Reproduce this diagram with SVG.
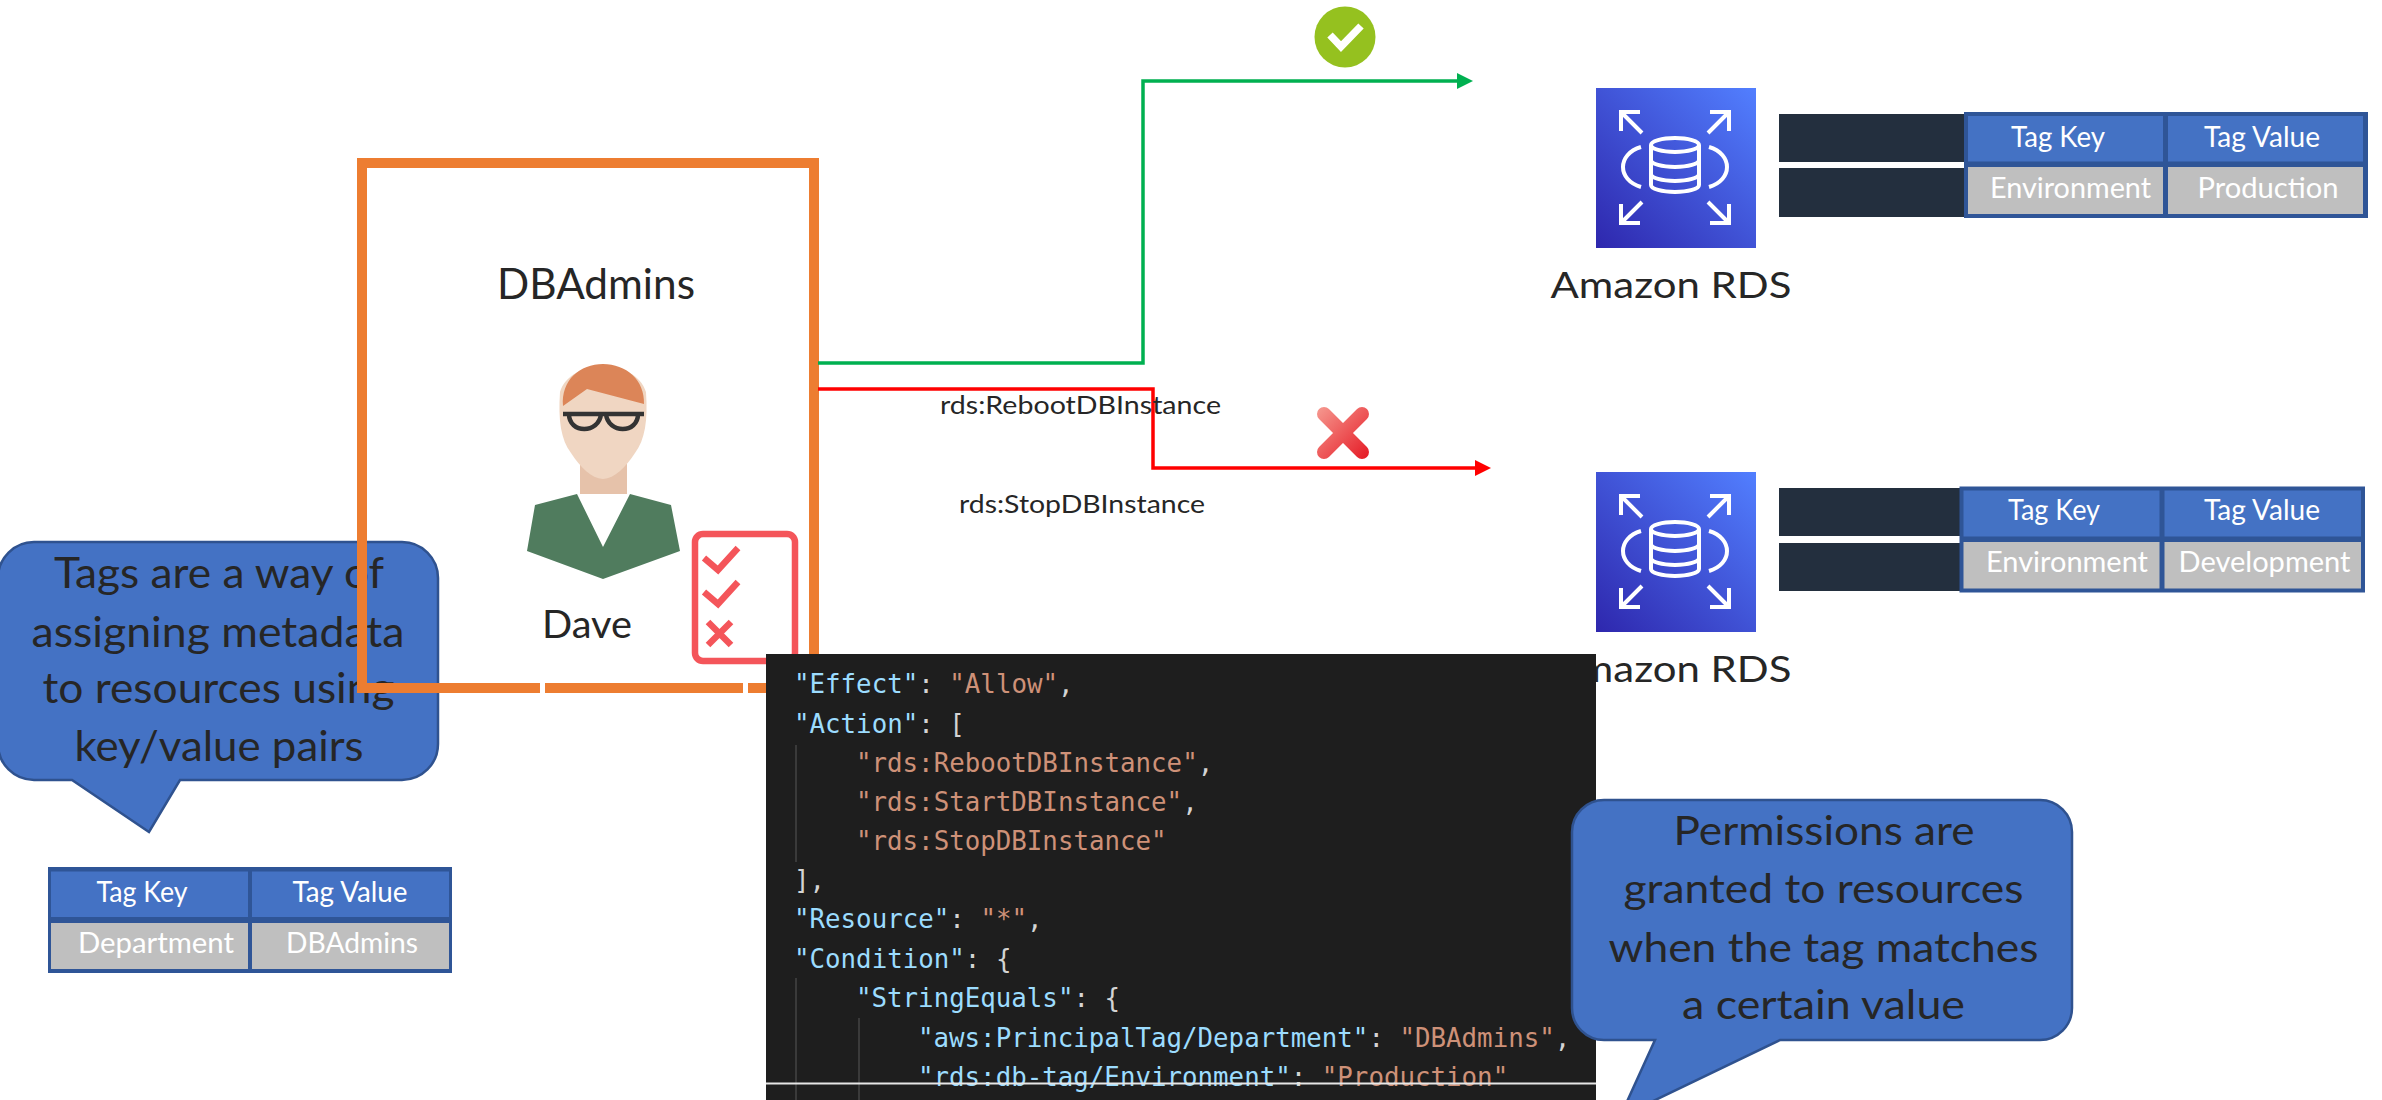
<svg xmlns="http://www.w3.org/2000/svg" width="2382" height="1100" viewBox="0 0 2382 1100">
  <defs>
    <style>
      .label { font-family: Lato, "Open Sans", "Liberation Sans", sans-serif; fill: #262626; }
      .cell { font-family: Lato, "Open Sans", "Liberation Sans", sans-serif; fill: #FFFFFF; }
      .code { font-family: "DejaVu Sans Mono", "Liberation Mono", monospace; font-size: 25.8px; fill: #D4D4D4; }
      .key { fill: #9CDCFE; }
      .str { fill: #CE9178; }
      .orange { stroke: #ED7D31; stroke-width: 10; fill: none; }
      .bubble { fill: #4472C4; stroke: #2F528F; stroke-width: 2.5; }
      .tbl-border { fill: #2F5597; }
      .tbl-head { fill: #4472C4; }
      .tbl-data { fill: #BFBFBF; }
      .bar { fill: #232F3E; }
      .guide { stroke: #444444; stroke-width: 1.5; }
      .icon-line { fill: none; stroke: #FFFFFF; stroke-width: 4; stroke-linecap: butt; stroke-linejoin: miter; }
    </style>
    <linearGradient id="rdsGradient" x1="0" y1="1" x2="1" y2="0">
      <stop offset="0" stop-color="#2E27AD"/>
      <stop offset="1" stop-color="#527FFF"/>
    </linearGradient>
    <linearGradient id="denyGradient" gradientUnits="userSpaceOnUse" x1="1320" y1="410" x2="1366" y2="456">
      <stop offset="0" stop-color="#F5928A"/>
      <stop offset="1" stop-color="#E6202A"/>
    </linearGradient>
    <marker id="arrowGreen" markerUnits="userSpaceOnUse" markerWidth="16" markerHeight="16" refX="8" refY="8" orient="auto">
      <path d="M0,0 L16,8 L0,16 z" fill="#00B050"/>
    </marker>
    <marker id="arrowRed" markerUnits="userSpaceOnUse" markerWidth="16" markerHeight="16" refX="8" refY="8" orient="auto">
      <path d="M0,0 L16,8 L0,16 z" fill="#FF0000"/>
    </marker>
    <!-- Amazon RDS service icon, 160 x 160 -->
    <g id="rdsIcon">
      <rect x="0" y="0" width="160" height="160" fill="url(#rdsGradient)"/>
      <path class="icon-line" d="M44,24 H25 V43 M25,24 L46,45"/>
      <path class="icon-line" d="M114,24 H133 V43 M133,24 L112,45"/>
      <path class="icon-line" d="M25,116 V135 H44 M25,135 L46,114"/>
      <path class="icon-line" d="M133,116 V135 H114 M133,135 L112,114"/>
      <ellipse class="icon-line" cx="79" cy="57" rx="24" ry="7"/>
      <path class="icon-line" d="M55,57 V97 A24,7 0 0 0 103,97 V57"/>
      <path class="icon-line" d="M55,72 A24,7 0 0 0 103,72"/>
      <path class="icon-line" d="M55,86 A24,7 0 0 0 103,86"/>
      <path class="icon-line" d="M45,59 C21,66 21,92 45,99"/>
      <path class="icon-line" d="M113,59 C137,66 137,92 113,99"/>
    </g>
  </defs>

  <rect x="0" y="0" width="2382" height="1100" fill="#FFFFFF"/>

  <!-- Callout: what tags are -->
  <g id="tags-callout">
    <path class="bubble" d="M34,542 H402 A36,36 0 0 1 438,578 V744 A36,36 0 0 1 402,780 H180 L149,832 L72,780 H34 A36,36 0 0 1 -2,744 V578 A36,36 0 0 1 34,542 Z"/>
    <text class="label" font-size="42" text-anchor="middle" x="219" y="588" textLength="330" lengthAdjust="spacingAndGlyphs">Tags are a way of</text>
    <text class="label" font-size="42" text-anchor="middle" x="218" y="647" textLength="373" lengthAdjust="spacingAndGlyphs">assigning metadata</text>
    <text class="label" font-size="42" text-anchor="middle" x="218.5" y="703" textLength="352" lengthAdjust="spacingAndGlyphs">to resources using</text>
    <text class="label" font-size="42" text-anchor="middle" x="219" y="761" textLength="289" lengthAdjust="spacingAndGlyphs">key/value pairs</text>
  </g>

  <!-- Principal tag on the DBAdmins group -->
  <g id="principal-tag-table">
    <rect class="tbl-border" x="48" y="867" width="404" height="106"/>
    <rect class="tbl-head" x="51" y="871.5" width="197" height="45.5"/>
    <rect class="tbl-head" x="252" y="871.5" width="197" height="45.5"/>
    <rect class="tbl-data" x="51" y="923" width="197" height="46"/>
    <rect class="tbl-data" x="252" y="923" width="197" height="46"/>
    <text class="cell" font-size="28" text-anchor="middle" x="142" y="902" textLength="91" lengthAdjust="spacingAndGlyphs">Tag Key</text>
    <text class="cell" font-size="28" text-anchor="middle" x="350" y="902" textLength="115" lengthAdjust="spacingAndGlyphs">Tag Value</text>
    <text class="cell" font-size="28" text-anchor="middle" x="156" y="953" textLength="156" lengthAdjust="spacingAndGlyphs">Department</text>
    <text class="cell" font-size="28" text-anchor="middle" x="352" y="953" textLength="132" lengthAdjust="spacingAndGlyphs">DBAdmins</text>
  </g>

  <!-- DBAdmins IAM group -->
  <g id="dbadmins-group">
    <line class="orange" x1="357" y1="163" x2="819" y2="163"/>
    <line class="orange" x1="362" y1="158" x2="362" y2="693"/>
    <line class="orange" x1="814" y1="158" x2="814" y2="660"/>
    <line class="orange" x1="357" y1="688" x2="540" y2="688"/>
    <line class="orange" x1="545" y1="688" x2="743" y2="688"/>
    <line class="orange" x1="748" y1="688" x2="819" y2="688"/>
    <text class="label" font-size="42" text-anchor="middle" x="596" y="299" textLength="198" lengthAdjust="spacingAndGlyphs">DBAdmins</text>
  </g>

  <!-- Dave, member of the group -->
  <g id="dave">
    <path d="M580,455 H627 V494 H580 Z" fill="#E6C2AA"/>
    <path d="M560,392 C558,420 561,440 571,453 C581,468 591,478 603,479 C615,478 625,468 635,453 C645,440 648,420 646,392 C641,375 621,366 603,366 C585,366 565,375 560,392 Z" fill="#F0D6C2"/>
    <path d="M563,406 C561,380 580,364 603,364 C626,364 645,380 644,404 L587,389 Z" fill="#DC8558"/>
    <path d="M563,414 H644 M569,414 C569,434 599,434 601,414 M606,414 C608,434 638,434 638,414" fill="none" stroke="#333333" stroke-width="4.5"/>
    <path d="M577,494 L603,547 L630,494 L671,505 L680,551 L603,579 L527,551 L535,505 Z" fill="#507C5E"/>
    <text class="label" font-size="38" text-anchor="middle" x="587" y="638" textLength="90" lengthAdjust="spacingAndGlyphs">Dave</text>
  </g>

  <!-- Policy checklist -->
  <g id="policy-checklist" fill="none" stroke="#F4555A" stroke-width="6.5">
    <rect x="695" y="534" width="100" height="127" rx="8"/>
    <path d="M704,558 L718,570 L738,548"/>
    <path d="M704,592 L718,604 L738,582"/>
    <path d="M708,622 L731,645 M731,622 L708,645"/>
  </g>

  <!-- Production database -->
  <g id="rds-production">
    <use href="#rdsIcon" x="1596" y="88"/>
    <text class="label" font-size="37" text-anchor="middle" x="1671" y="298" textLength="241" lengthAdjust="spacingAndGlyphs">Amazon RDS</text>
    <rect class="bar" x="1779" y="114" width="186" height="48"/>
    <rect class="bar" x="1779" y="168" width="186" height="49"/>
    <rect class="tbl-border" x="1964" y="112" width="404" height="106"/>
    <rect class="tbl-head" x="1968" y="116" width="195" height="45.5"/>
    <rect class="tbl-head" x="2168" y="116" width="195" height="45.5"/>
    <rect class="tbl-data" x="1968" y="167" width="195" height="47"/>
    <rect class="tbl-data" x="2168" y="167" width="195" height="47"/>
    <text class="cell" font-size="29" text-anchor="middle" x="2058" y="147" textLength="94" lengthAdjust="spacingAndGlyphs">Tag Key</text>
    <text class="cell" font-size="29" text-anchor="middle" x="2262" y="147" textLength="116" lengthAdjust="spacingAndGlyphs">Tag Value</text>
    <text class="cell" font-size="29" text-anchor="middle" x="2070.5" y="198" textLength="161" lengthAdjust="spacingAndGlyphs">Environment</text>
    <text class="cell" font-size="29" text-anchor="middle" x="2268" y="198" textLength="141" lengthAdjust="spacingAndGlyphs">Production</text>
  </g>

  <!-- Development database -->
  <g id="rds-development">
    <use href="#rdsIcon" x="1596" y="472"/>
    <text class="label" font-size="37" text-anchor="middle" x="1671" y="682" textLength="241" lengthAdjust="spacingAndGlyphs">Amazon RDS</text>
    <rect class="bar" x="1779" y="488" width="182" height="48"/>
    <rect class="bar" x="1779" y="543" width="182" height="48"/>
    <rect class="tbl-border" x="1959.5" y="486.5" width="405.5" height="106"/>
    <rect class="tbl-head" x="1963.5" y="490.5" width="196" height="46"/>
    <rect class="tbl-head" x="2164.5" y="490.5" width="196.5" height="46"/>
    <rect class="tbl-data" x="1963.5" y="542" width="196" height="46.5"/>
    <rect class="tbl-data" x="2164.5" y="542" width="196.5" height="46.5"/>
    <text class="cell" font-size="29" text-anchor="middle" x="2054" y="520" textLength="92" lengthAdjust="spacingAndGlyphs">Tag Key</text>
    <text class="cell" font-size="29" text-anchor="middle" x="2262" y="520" textLength="116" lengthAdjust="spacingAndGlyphs">Tag Value</text>
    <text class="cell" font-size="29" text-anchor="middle" x="2067" y="572" textLength="162" lengthAdjust="spacingAndGlyphs">Environment</text>
    <text class="cell" font-size="29" text-anchor="middle" x="2264.5" y="572" textLength="172" lengthAdjust="spacingAndGlyphs">Development</text>
  </g>

  <!-- Request paths from the group to the databases -->
  <g id="connectors" fill="none" stroke-width="3.5">
    <path d="M818,363 H1143 V81 H1465" stroke="#00B050" marker-end="url(#arrowGreen)"/>
    <path d="M818,389 H1153 V468 H1483" stroke="#FF0000" marker-end="url(#arrowRed)"/>
    <text class="label" stroke="none" font-size="25" x="940" y="414" textLength="281" lengthAdjust="spacingAndGlyphs">rds:RebootDBInstance</text>
    <text class="label" stroke="none" font-size="25" x="959" y="513" textLength="246" lengthAdjust="spacingAndGlyphs">rds:StopDBInstance</text>
  </g>

  <!-- Allowed badge -->
  <g id="allow-badge">
    <circle cx="1345" cy="37" r="30.5" fill="#95C11F"/>
    <path d="M1330,35 L1341,46.5 L1361,26" fill="none" stroke="#FFFFFF" stroke-width="7.5"/>
  </g>

  <!-- Denied badge -->
  <g id="deny-badge" stroke="url(#denyGradient)" stroke-width="14" stroke-linecap="round">
    <line x1="1324" y1="414" x2="1362" y2="452"/>
    <line x1="1362" y1="414" x2="1324" y2="452"/>
  </g>

  <!-- IAM policy statement -->
  <g id="policy-code">
    <rect x="766" y="654" width="830" height="446" fill="#1E1E1E"/>
    <line class="guide" x1="796" y1="745" x2="796" y2="862"/>
    <line class="guide" x1="796" y1="978" x2="796" y2="1100"/>
    <line class="guide" x1="859" y1="1018" x2="859" y2="1100"/>
    <text class="code" x="794" y="693"><tspan class="key">"Effect"</tspan>: <tspan class="str">"Allow"</tspan>,</text>
    <text class="code" x="794" y="732.5"><tspan class="key">"Action"</tspan>: [</text>
    <text class="code" x="856" y="771.5"><tspan class="str">"rds:RebootDBInstance"</tspan>,</text>
    <text class="code" x="856" y="810.5"><tspan class="str">"rds:StartDBInstance"</tspan>,</text>
    <text class="code" x="856" y="850"><tspan class="str">"rds:StopDBInstance"</tspan></text>
    <text class="code" x="794" y="889">],</text>
    <text class="code" x="794" y="928"><tspan class="key">"Resource"</tspan>: <tspan class="str">"*"</tspan>,</text>
    <text class="code" x="794" y="968"><tspan class="key">"Condition"</tspan>: {</text>
    <text class="code" x="856" y="1007"><tspan class="key">"StringEquals"</tspan>: {</text>
    <text class="code" x="918" y="1046.5"><tspan class="key">"aws:PrincipalTag/Department"</tspan>: <tspan class="str">"DBAdmins"</tspan>,</text>
    <text class="code" x="918" y="1085.5"><tspan class="key">"rds:db-tag/Environment"</tspan>: <tspan class="str">"Production"</tspan></text>
    <line x1="766" y1="1083.5" x2="1596" y2="1083.5" stroke="#E6E6E6" stroke-width="2"/>
  </g>

  <!-- Callout: how tag conditions grant access -->
  <g id="permissions-callout">
    <path class="bubble" d="M1604,800 H2040 A32,32 0 0 1 2072,832 V1008 A32,32 0 0 1 2040,1040 H1780 L1620,1117 L1655,1040 H1604 A32,32 0 0 1 1572,1008 V832 A32,32 0 0 1 1604,800 Z"/>
    <text class="label" font-size="40" text-anchor="middle" x="1824" y="845" textLength="301" lengthAdjust="spacingAndGlyphs">Permissions are</text>
    <text class="label" font-size="40" text-anchor="middle" x="1823.5" y="903" textLength="400" lengthAdjust="spacingAndGlyphs">granted to resources</text>
    <text class="label" font-size="40" text-anchor="middle" x="1823.5" y="961.5" textLength="430" lengthAdjust="spacingAndGlyphs">when the tag matches</text>
    <text class="label" font-size="40" text-anchor="middle" x="1823.5" y="1019" textLength="283" lengthAdjust="spacingAndGlyphs">a certain value</text>
  </g>
</svg>
